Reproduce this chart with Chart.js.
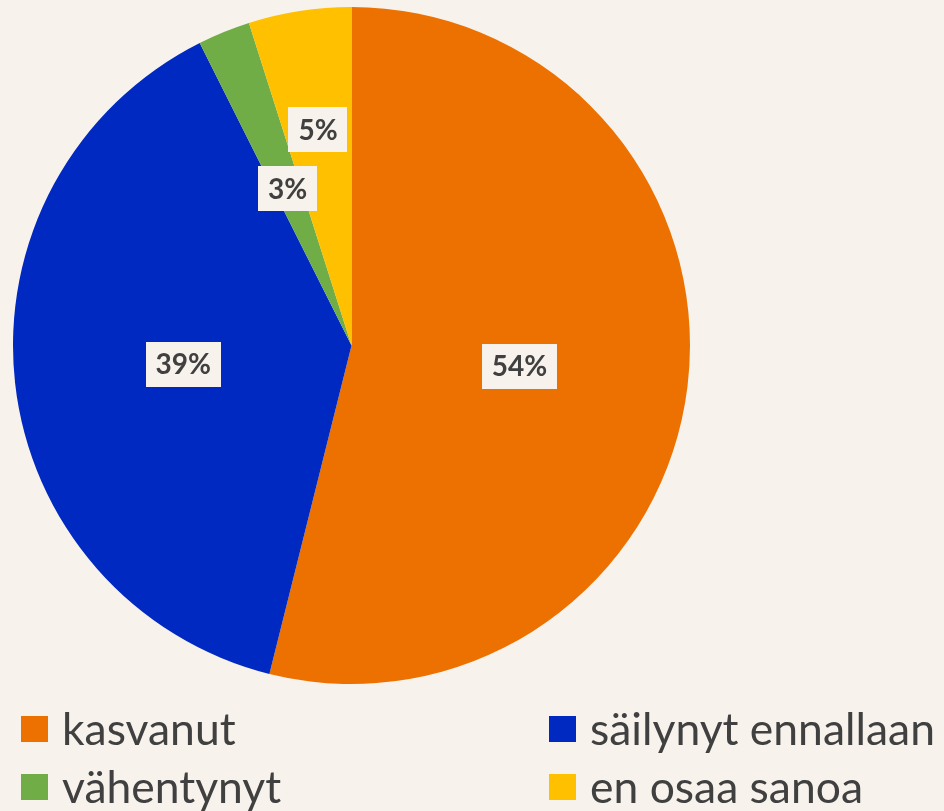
<!DOCTYPE html>
<html>
<head>
<meta charset="utf-8">
<script src="https://cdn.jsdelivr.net/npm/chart.js@4"></script>
<style>
  html, body { margin: 0; padding: 0; background: #F7F2EC; }
  #wrap { width: 944px; height: 811px; }
</style>
</head>
<body>
<div id="wrap"><canvas id="myChart" width="944" height="811"></canvas></div>
<script>
// Vastaukset (%), luettu kuvasta
const categories = ["kasvanut", "säilynyt ennallaan", "vähentynyt", "en osaa sanoa"];
const values = [53.9, 38.7, 2.5, 4.9];
const colors = ["#EC7100", "#0029C2", "#70AD47", "#FFC000"];

const bgColor = "#F7F2EC";
const textColor = "#404040";

// prosenttilaatikot siivujen päälle
const pctLabels = {
  id: "pctLabels",
  afterDatasetsDraw(chart, args, opts) {
    const ctx = chart.ctx;
    const meta = chart.getDatasetMeta(0);
    const total = values.reduce((a, b) => a + b, 0);
    ctx.save();
    ctx.font = "bold 28px Lato";
    ctx.textAlign = "center";
    ctx.textBaseline = "middle";
    meta.data.forEach((arc, i) => {
      const p = arc.getProps(["x", "y", "startAngle", "endAngle", "outerRadius"], true);
      const mid = (p.startAngle + p.endAngle) / 2;
      const r = p.outerRadius * opts.radius[i];
      const x = p.x + Math.cos(mid) * r;
      const y = p.y + Math.sin(mid) * r;
      const txt = Math.round(values[i] / total * 100) + "%";
      const w = ctx.measureText(txt).width + 20;
      const h = 45;
      ctx.fillStyle = bgColor;
      ctx.fillRect(Math.round(x - w / 2), Math.round(y - h / 2), Math.round(w), h);
      ctx.fillStyle = textColor;
      ctx.fillText(txt, x, y + 1);
    });
    ctx.restore();
  }
};

// selite kahteen sarakkeeseen alas
const gridLegend = {
  id: "gridLegend",
  afterDraw(chart) {
    const ctx = chart.ctx;
    ctx.save();
    ctx.font = "100px Lato";
    const size = 100 * 345 / ctx.measureText(categories[1]).width;
    ctx.font = size + "px Lato";
    ctx.textAlign = "left";
    ctx.textBaseline = "alphabetic";
    const cols = [21, 549];
    const rows = [716, 774];
    categories.forEach((c, i) => {
      const x = cols[i % 2];
      const y = rows[Math.floor(i / 2)];
      ctx.fillStyle = colors[i];
      ctx.fillRect(x, y, 27, 26);
      ctx.fillStyle = textColor;
      ctx.fillText(c, x + 41, y + 29);
    });
    ctx.restore();
  }
};

const graph = new Chart(document.querySelector("#myChart"), {
  type: "pie",
  data: {
    labels: categories,
    datasets: [
      {
        data: values,
        backgroundColor: colors,
        borderWidth: 0,
      },
    ],
  },
  options: {
    responsive: false,
    devicePixelRatio: 1,
    animation: false,
    layout: {
      padding: { left: 13, right: 254, top: 7, bottom: 127 },
    },
    plugins: {
      legend: { display: false },
      tooltip: { enabled: false },
      pctLabels: { radius: [0.5, 0.5, 0.5, 0.645] },
    },
  },
  plugins: [pctLabels, gridLegend],
});
</script>
</body>
</html>
